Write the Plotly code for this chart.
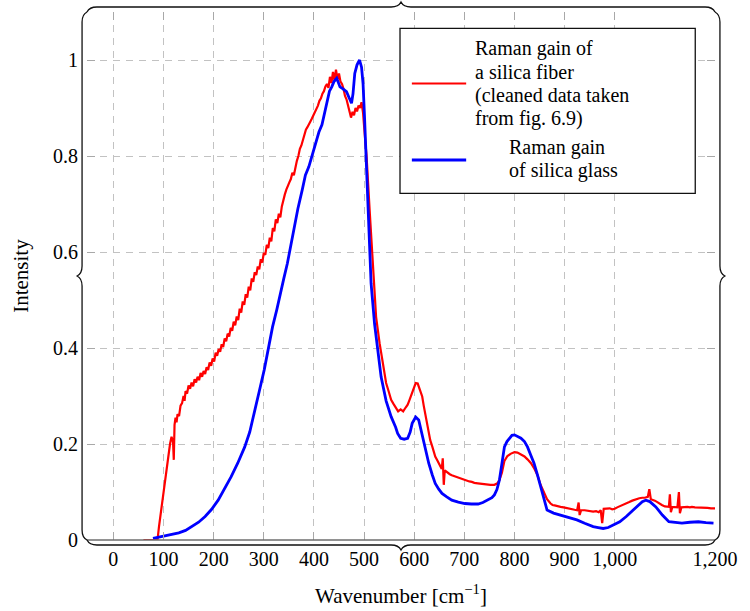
import math
import plotly.graph_objects as go

# ---------------- data ----------------
fiber_x = [60, 88, 91, 96, 101, 104, 107, 109, 111, 113, 116, 119, 120.5, 122, 124, 126, 128, 131,
           134, 137, 140, 142, 144, 147, 150, 153, 156, 159, 162, 165, 168, 171, 174, 177, 180,
           183, 186, 189, 192, 195, 198, 201, 204, 207, 210, 213, 216, 219, 222, 225, 228, 231,
           234, 237, 240, 243, 246, 249, 252, 255, 258, 261, 264, 267, 270, 273, 276, 279, 282,
           285, 288, 291, 294, 297, 300, 303, 306, 309, 312, 315, 318, 321, 324, 327, 330, 333,
           336, 339, 342, 345, 348, 351, 354, 357, 360, 363, 366, 369, 372, 375, 378, 381, 384,
           387, 390, 393, 396, 399, 402, 405, 408, 411, 414, 417, 420, 423, 426, 429, 432, 435,
           438, 441, 444, 447, 450, 453, 456, 459, 462, 465, 468, 471, 474, 477, 480, 483, 486,
           489, 492, 495, 498, 501, 505, 511, 518, 521, 524, 531, 537, 544, 549, 554, 559, 564,
           568, 573, 578, 583, 587, 590, 593, 596, 600, 603, 607, 610, 612, 616, 619, 623, 626,
           629, 632, 636, 639, 642, 646, 649, 652, 655, 657, 659, 661, 664, 668, 671, 675, 680,
           685, 690, 695, 700, 705, 710, 715, 720, 727, 733, 739, 745, 752, 760, 766, 770, 775,
           780, 786, 793, 800, 806, 813, 820, 826, 833, 840, 846, 852, 859, 865, 872, 876, 880,
           886, 892, 898, 905, 910, 915, 920, 925, 928, 930, 933, 940, 945, 950, 957, 963, 968,
           972, 975, 978, 984, 990, 995, 1000, 1005, 1010, 1016, 1023, 1029, 1035, 1042, 1049,
           1055, 1060, 1066, 1069, 1072, 1076, 1080, 1085, 1089, 1094, 1100, 1104, 1108, 1110,
           1112, 1115, 1120, 1125, 1128, 1130, 1133, 1139, 1145, 1150, 1154, 1160, 1165, 1170,
           1177, 1185, 1192, 1200]
fiber_y = [0, 0, 0.028, 0.07, 0.104, 0.13, 0.16, 0.175, 0.19, 0.2, 0.215, 0.205, 0.167, 0.24,
           0.255, 0.245, 0.262, 0.258, 0.28, 0.285, 0.30, 0.29, 0.31, 0.305, 0.322, 0.315, 0.328,
           0.32, 0.335, 0.328, 0.34, 0.333, 0.348, 0.34, 0.352, 0.346, 0.36, 0.354, 0.37, 0.363,
           0.378, 0.372, 0.39, 0.384, 0.398, 0.392, 0.408, 0.402, 0.42, 0.414, 0.43, 0.424, 0.442,
           0.436, 0.455, 0.447, 0.466, 0.458, 0.482, 0.474, 0.497, 0.49, 0.512, 0.505, 0.528,
           0.52, 0.545, 0.538, 0.558, 0.552, 0.57, 0.564, 0.585, 0.578, 0.598, 0.594, 0.615,
           0.608, 0.63, 0.622, 0.65, 0.643, 0.668, 0.66, 0.68, 0.672, 0.695, 0.71, 0.72, 0.73,
           0.736, 0.745, 0.752, 0.765, 0.76, 0.778, 0.79, 0.80, 0.815, 0.822, 0.835, 0.842, 0.855,
           0.86, 0.868, 0.872, 0.878, 0.885, 0.89, 0.90, 0.905, 0.915, 0.92, 0.93, 0.935, 0.945,
           0.95, 0.942, 0.965, 0.952, 0.975, 0.958, 0.98, 0.96, 0.972, 0.955, 0.95, 0.94, 0.925,
           0.918, 0.905, 0.895, 0.88, 0.892, 0.885, 0.90, 0.893, 0.905, 0.90, 0.912, 0.89, 0.85,
           0.80, 0.69, 0.576, 0.535, 0.465, 0.41, 0.368, 0.327, 0.31, 0.292, 0.283, 0.275, 0.268,
           0.272, 0.268, 0.276, 0.282, 0.29, 0.298, 0.306, 0.318, 0.327, 0.326, 0.318, 0.31,
           0.299, 0.28, 0.257, 0.24, 0.222, 0.208, 0.195, 0.185, 0.174, 0.166, 0.16, 0.154, 0.148,
           0.17, 0.115, 0.145, 0.142, 0.14, 0.137, 0.135, 0.133, 0.132, 0.13, 0.128, 0.126, 0.124,
           0.122, 0.121, 0.119, 0.118, 0.117, 0.117, 0.116, 0.115, 0.115, 0.118, 0.125, 0.14,
           0.165, 0.175, 0.18, 0.183, 0.182, 0.178, 0.174, 0.168, 0.16, 0.148, 0.135, 0.115,
           0.097, 0.085, 0.076, 0.073, 0.072, 0.07, 0.069, 0.068, 0.066, 0.065, 0.064, 0.063,
           0.062, 0.078, 0.052, 0.062, 0.062, 0.061, 0.06, 0.059, 0.06, 0.058, 0.062, 0.035,
           0.065, 0.066, 0.066, 0.064, 0.065, 0.068, 0.07, 0.073, 0.076, 0.079, 0.082, 0.085,
           0.087, 0.088, 0.088, 0.09, 0.106, 0.085, 0.084, 0.082, 0.079, 0.076, 0.073, 0.07,
           0.07, 0.069, 0.095, 0.058, 0.069, 0.068, 0.068, 0.10, 0.056, 0.068, 0.069, 0.069,
           0.068, 0.069, 0.068, 0.068, 0.068, 0.067, 0.067, 0.066, 0.066]

glass_x = [79, 90, 104, 118, 130.5, 144, 157, 170, 183, 196, 209, 222, 235, 248, 262, 272, 281.5,
           291, 301, 309, 317.5, 326, 334, 340, 347, 353, 360, 368, 376.6, 383, 390, 396, 403,
           410, 416, 421, 426, 431, 435.6, 440, 445.5, 452, 458, 465, 470, 475, 478, 481.5, 486,
           491, 495, 498, 501, 504.5, 508, 511, 514, 521, 527.5, 534, 544, 554, 563, 567, 573,
           580, 587, 592, 596, 603, 609, 614, 619, 624, 629, 636, 642, 649, 655.5, 665, 675, 688,
           701, 714, 727.5, 737, 747, 755, 760, 765, 770, 775, 780, 785, 790, 795, 800, 806, 813,
           820, 826, 832, 839, 846, 852, 858, 865, 878, 892, 908, 924.5, 940, 957, 967, 977, 987,
           997, 1010, 1023, 1036, 1049, 1055, 1062, 1070, 1082, 1095, 1108, 1120, 1134, 1150,
           1167, 1182, 1197]
glass_y = [0.0035, 0.006, 0.008, 0.011, 0.015, 0.02, 0.028, 0.037, 0.049, 0.064, 0.083, 0.106,
           0.132, 0.16, 0.194, 0.225, 0.27, 0.31, 0.355, 0.40, 0.444, 0.48, 0.514, 0.545, 0.576,
           0.61, 0.646, 0.69, 0.729, 0.76, 0.778, 0.80, 0.826, 0.85, 0.865, 0.89, 0.917, 0.935,
           0.944, 0.955, 0.962, 0.944, 0.94, 0.934, 0.922, 0.91, 0.93, 0.972, 0.99, 1.0, 0.985,
           0.951, 0.88, 0.78, 0.673, 0.604, 0.535, 0.45, 0.396, 0.34, 0.29, 0.257, 0.235, 0.222,
           0.212, 0.21, 0.212, 0.225, 0.243, 0.256, 0.25, 0.228, 0.201, 0.18, 0.16, 0.136, 0.118,
           0.106, 0.097, 0.09, 0.083, 0.079, 0.076, 0.075, 0.075, 0.078, 0.083, 0.088, 0.094,
           0.105, 0.125, 0.16, 0.194, 0.205, 0.212, 0.218, 0.219, 0.216, 0.212, 0.205, 0.194,
           0.178, 0.16, 0.135, 0.111, 0.085, 0.0625, 0.056, 0.052, 0.047, 0.042, 0.035, 0.028,
           0.026, 0.024, 0.026, 0.031, 0.038, 0.049, 0.062, 0.076, 0.08, 0.083, 0.08, 0.069,
           0.052, 0.038, 0.036, 0.035, 0.037, 0.038, 0.036, 0.035]

x_ticks = [0, 100, 200, 300, 400, 500, 600, 700, 800, 900, 1000, 1200]
x_tick_text = ["0", "100", "200", "300", "400", "500", "600", "700", "800", "900", "1,000", "1,200"]
y_ticks = [0, 0.2, 0.4, 0.6, 0.8, 1.0]
y_tick_text = ["0", "0.2", "0.4", "0.6", "0.8", "1"]

fiber_label = ["Raman gain of", "a silica fiber", "(cleaned data taken", "from fig. 6.9)"]
glass_label = ["Raman gain", "of silica glass"]
x_title = "Wavenumber [cm<sup>\u22121</sup>]"
y_title = "Intensity"

# ---------------- layout geometry (pixels) ----------------
W, H = 750, 611
L, R, T, B = 87, 723, 12, 540
XMIN, XMAX, YMIN, YMAX = -52.6, 1200, 0, 1.1
FONT = "Liberation Serif"


def px(x):
    return (x - L) / (R - L)


def py(y):
    return (B - y) / (B - T)


def brace(p0, p1, n, a=10.0):
    dx, dy = p1[0] - p0[0], p1[1] - p0[1]
    ln = math.hypot(dx, dy)
    ux, uy = dx / ln, dy / ln
    m = ln / 2

    def p(s, t):
        X = p0[0] + ux * s + n[0] * t
        Y = p0[1] + uy * s + n[1] * t
        return f"{px(X):.5f},{py(Y):.5f}"

    return (f"M {p(0,0)} C {p(.15*a,.3*a)} {p(.5*a,.5*a)} {p(a,.5*a)} "
            f"L {p(m-a,.5*a)} C {p(m-.5*a,.5*a)} {p(m-.15*a,.7*a)} {p(m,a)} "
            f"C {p(m+.15*a,.7*a)} {p(m+.5*a,.5*a)} {p(m+a,.5*a)} "
            f"L {p(ln-a,.5*a)} C {p(ln-.5*a,.5*a)} {p(ln-.15*a,.3*a)} {p(ln,0)}")


fig = go.Figure()
fig.add_trace(go.Scatter(x=fiber_x, y=fiber_y, mode="lines",
                         line=dict(color="#ff0000", width=2.2), showlegend=False))
fig.add_trace(go.Scatter(x=glass_x, y=glass_y, mode="lines",
                         line=dict(color="#0000ff", width=2.8), showlegend=False))

shapes = []
shapes.append(dict(type="line", xref="paper", yref="paper", x0=0, x1=1, y0=0, y1=0,
                   line=dict(color="#6e6e6e", width=1.6)))
for p0, p1, n in [((L, B), (L, T), (-1, 0)),
                  ((L, T), (R, T), (0, -1)),
                  ((R, T), (R, B), (1, 0)),
                  ((R, B), (L, B), (0, 1))]:
    shapes.append(dict(type="path", xref="paper", yref="paper", path=brace(p0, p1, n),
                       line=dict(color="#111111", width=1.3)))
shapes.append(dict(type="rect", xref="paper", yref="paper",
                   x0=px(404), x1=px(703), y0=py(28.3), y1=py(193.3),
                   fillcolor="white", line=dict(color="#111111", width=1.3)))
shapes.append(dict(type="line", xref="paper", yref="paper", x0=px(416), x1=px(471),
                   y0=py(83.5), y1=py(83.5), line=dict(color="#ff0000", width=2.2)))
shapes.append(dict(type="line", xref="paper", yref="paper", x0=px(416), x1=px(471),
                   y0=py(160), y1=py(160), line=dict(color="#0000ff", width=2.8)))

annotations = []
for i, t in enumerate(fiber_label):
    annotations.append(dict(text=t, xref="paper", yref="paper", x=px(479), y=py(48.5 + 23.3 * i),
                            xanchor="left", yanchor="middle", showarrow=False, borderpad=0,
                            font=dict(family=FONT, size=20, color="black")))
for i, t in enumerate(glass_label):
    annotations.append(dict(text=t, xref="paper", yref="paper", x=px(513), y=py(147.5 + 23.3 * i),
                            xanchor="left", yanchor="middle", showarrow=False, borderpad=0,
                            font=dict(family=FONT, size=20, color="black")))
annotations.append(dict(text=x_title, xref="paper", yref="paper", x=0.5, y=py(594),
                        xanchor="center", yanchor="middle", showarrow=False,
                        font=dict(family=FONT, size=21, color="black")))
annotations.append(dict(text=y_title, xref="paper", yref="paper", x=px(20), y=0.5,
                        xanchor="center", yanchor="middle", showarrow=False, textangle=-90,
                        font=dict(family=FONT, size=21, color="black")))

axis_common = dict(showgrid=True, gridcolor="#c2c2c2", gridwidth=1, griddash="7px,6px",
                   ticks="inside", ticklen=8, tickcolor="#a8a8a8", tickwidth=1,
                   mirror="ticks", showline=False, zeroline=False,
                   tickfont=dict(family=FONT, size=20, color="black"))

fig.update_layout(
    width=W, height=H,
    margin=dict(l=L, r=W - R, t=T, b=H - B, pad=0),
    paper_bgcolor="white", plot_bgcolor="white",
    xaxis=dict(range=[XMIN, XMAX], tickmode="array", tickvals=x_ticks, ticktext=x_tick_text,
               ticklabelstandoff=5, **axis_common),
    yaxis=dict(range=[YMIN, YMAX], tickmode="array", tickvals=y_ticks, ticktext=y_tick_text,
               ticklabelstandoff=8, **axis_common),
    shapes=shapes, annotations=annotations, showlegend=False,
)

fig.write_html("out.html")
